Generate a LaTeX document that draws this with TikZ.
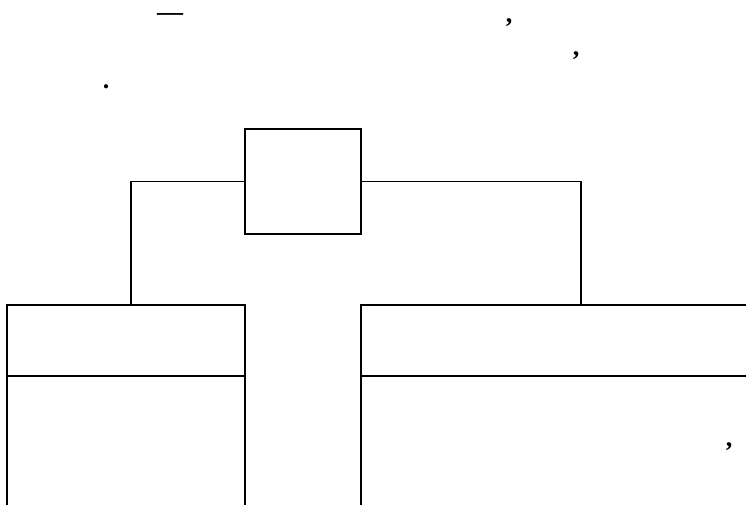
\documentclass[tikz,border=0pt]{standalone}
\usepackage{fontspec}
\setmainfont{Liberation Serif}
\usepackage{tikz}
\usetikzlibrary{positioning}

\tikzset{
  frame/.style={draw, line width=0.8pt, inner sep=0pt, outer sep=0pt},
  link/.style={line width=0.8pt},
  mark text/.style={inner sep=0pt, font=\fontsize{19.5}{24}\selectfont\bfseries}
}

\begin{document}
\begin{tikzpicture}[x=0.75pt, y=-0.75pt]
  \useasboundingbox (0,0) rectangle (746,504);
  \clip (0,0) rectangle (746,504);

  % Heading text (only the punctuation is printed)
  \node[mark text] (dashA) at (170,17) {---};
  \node[mark text] (commaA) at (509,23) {,};
  \node[mark text] (commaB) at (576,56) {,};
  \node[mark text] (dotA) at (106,87) {.};

  % Central box
  \node[frame, minimum width=87pt, minimum height=78.75pt] (hub) at (303,181.5) {};

  % Left column
  \node[frame, minimum width=178.5pt, minimum height=53.25pt] (leftTop) at (126,340.5) {};
  \node[frame, minimum width=178.5pt, minimum height=138pt, below=0pt of leftTop] (leftBody) {};

  % Right column
  \node[frame, minimum width=330pt, minimum height=53.25pt] (rightTop) at (581,340.5) {};
  \node[frame, minimum width=330pt, minimum height=138pt, below=0pt of rightTop] (rightBody) {};
  \node[mark text] (commaC) at (729,447) {,};

  % Connectors
  \draw[link] (hub.west) -| ([xshift=3.75pt]leftTop.north);
  \draw[link] (hub.east) -| (rightTop.north);
\end{tikzpicture}
\end{document}
